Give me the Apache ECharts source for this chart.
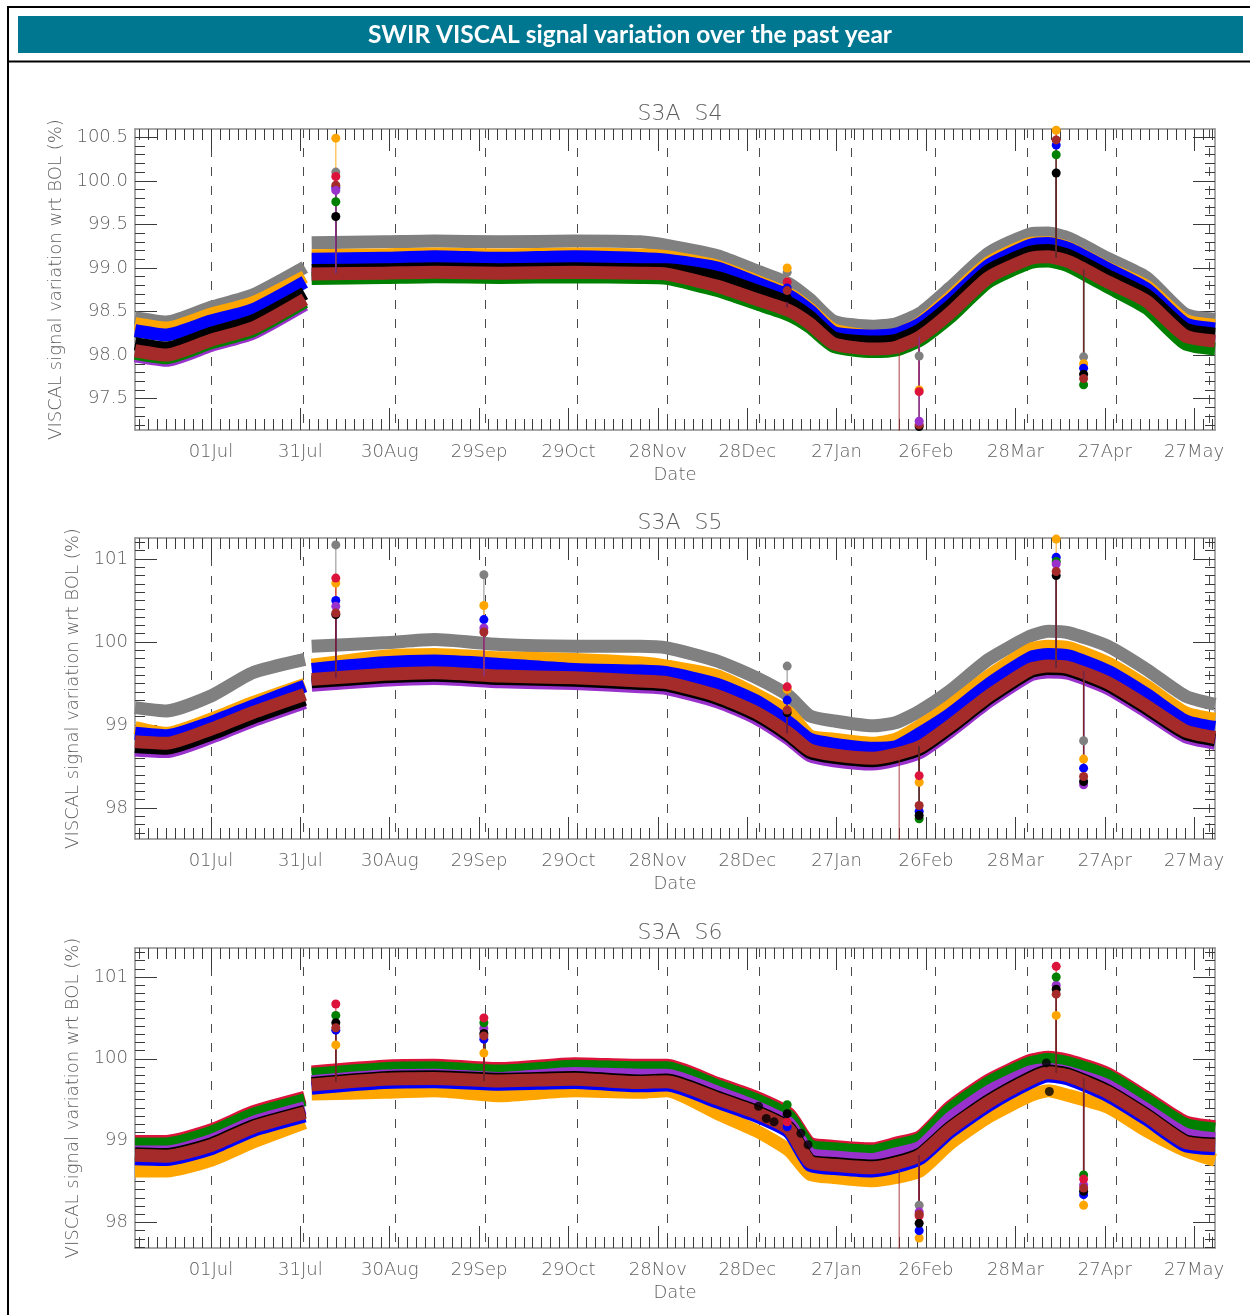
<!DOCTYPE html>
<html>
<head>
<meta charset="utf-8">
<title>SWIR VISCAL signal variation over the past year</title>
<script src="https://cdn.jsdelivr.net/npm/echarts@6/dist/echarts.min.js"></script>
<style>
html, body { margin: 0; padding: 0; background: #fff; }
#main { width: 1250px; height: 1315px; }
</style>
</head>
<body>
<div id="main"></div>
<script>
// days counted from 01 Jul; null = gap in the record
var dayPts = [-25.5, -15, 0, 14, 31.5, 32.6, 33.8, 58, 75, 97, 122, 144, 153, 170, 183, 194, 201, 209, 222, 230, 238, 248, 261, 275, 281, 288, 301, 314, 327, 337];
var tickDays = [0, 30, 60, 90, 120, 150, 180, 210, 240, 270, 300, 330];
var tickLabels = ['01Jul', '31Jul', '30Aug', '29Sep', '29Oct', '28Nov', '28Dec', '27Jan', '26Feb', '28Mar', '27Apr', '27May'];
var monthDays = [0, 31, 62, 92, 123, 153, 184, 215, 243, 274, 304, 335];

// S3A S4
var s4Gray   = [98.43, 98.38, 98.55, 98.69, 99.01, null, 99.29, 99.30, 99.31, 99.30, 99.31, 99.30, 99.26, 99.14, 98.97, 98.82, 98.64, 98.39, 98.33, 98.36, 98.48, 98.77, 99.17, 99.39, 99.40, 99.34, 99.11, 98.89, 98.47, 98.41];
var s4Orange = [98.36, 98.31, 98.47, 98.60, 98.90, null, 99.14, 99.15, 99.16, 99.15, 99.16, 99.15, 99.13, 99.02, 98.85, 98.70, 98.53, 98.29, 98.22, 98.24, 98.37, 98.66, 99.06, 99.28, 99.29, 99.23, 99.00, 98.79, 98.40, 98.34];
var s4Blue   = [98.28, 98.23, 98.39, 98.52, 98.84, null, 99.10, 99.11, 99.13, 99.11, 99.13, 99.11, 99.09, 99.00, 98.83, 98.68, 98.51, 98.26, 98.22, 98.24, 98.36, 98.63, 99.03, 99.26, 99.28, 99.22, 98.99, 98.76, 98.36, 98.30];
var s4Black  = [98.13, 98.08, 98.25, 98.39, 98.71, null, 98.97, 98.98, 98.99, 98.98, 98.99, 98.98, 98.98, 98.89, 98.74, 98.60, 98.44, 98.20, 98.15, 98.17, 98.29, 98.56, 98.97, 99.18, 99.20, 99.14, 98.91, 98.69, 98.30, 98.24];
var s4Purple = [97.99, 97.94, 98.11, 98.25, 98.58, null, 98.92, 98.93, 98.94, 98.93, 98.94, 98.93, 98.92, 98.78, 98.63, 98.50, 98.35, 98.12, 98.06, 98.08, 98.20, 98.47, 98.88, 99.10, 99.12, 99.06, 98.83, 98.61, 98.21, 98.15];
var s4Green  = [98.02, 97.97, 98.14, 98.28, 98.61, null, 98.88, 98.89, 98.90, 98.89, 98.90, 98.89, 98.88, 98.74, 98.59, 98.46, 98.32, 98.10, 98.04, 98.06, 98.17, 98.43, 98.84, 99.06, 99.08, 99.02, 98.78, 98.54, 98.13, 98.07];
var s4Brown  = [98.05, 98.00, 98.17, 98.31, 98.64, null, 98.93, 98.94, 98.95, 98.94, 98.95, 98.94, 98.93, 98.79, 98.64, 98.51, 98.36, 98.13, 98.07, 98.09, 98.21, 98.48, 98.89, 99.11, 99.13, 99.07, 98.84, 98.62, 98.22, 98.16];

// S3A S5
var s5Gray   = [99.21, 99.17, 99.35, 99.63, 99.79, null, 99.95, 99.99, 100.03, 99.97, 99.95, 99.95, 99.93, 99.77, 99.57, 99.35, 99.11, 99.05, 98.99, 99.03, 99.17, 99.41, 99.79, 100.07, 100.13, 100.11, 99.95, 99.67, 99.35, 99.25];
var s5Orange = [98.97, 98.90, 99.07, 99.27, 99.49, null, 99.72, 99.83, 99.85, 99.81, 99.79, 99.75, 99.71, 99.59, 99.37, 99.15, 98.87, 98.83, 98.78, 98.83, 98.99, 99.23, 99.59, 99.91, 99.95, 99.93, 99.75, 99.47, 99.15, 99.07];
var s5Blue   = [98.90, 98.87, 99.03, 99.23, 99.47, null, 99.67, 99.75, 99.77, 99.73, 99.67, 99.65, 99.63, 99.49, 99.29, 99.03, 98.83, 98.77, 98.72, 98.74, 98.90, 99.13, 99.49, 99.81, 99.85, 99.83, 99.65, 99.37, 99.05, 98.97];
var s5Purple = [98.70, 98.68, 98.85, 99.05, 99.27, null, 99.48, 99.54, 99.56, 99.52, 99.50, 99.46, 99.44, 99.28, 99.08, 98.83, 98.63, 98.57, 98.53, 98.58, 98.67, 98.92, 99.28, 99.60, 99.64, 99.62, 99.44, 99.16, 98.86, 98.78];
var s5Black  = [98.74, 98.72, 98.89, 99.09, 99.31, null, 99.52, 99.58, 99.60, 99.56, 99.54, 99.50, 99.48, 99.32, 99.12, 98.87, 98.67, 98.61, 98.57, 98.62, 98.71, 98.96, 99.32, 99.64, 99.68, 99.66, 99.48, 99.20, 98.90, 98.82];
var s5Brown  = [98.80, 98.78, 98.95, 99.15, 99.37, null, 99.55, 99.61, 99.63, 99.59, 99.57, 99.53, 99.51, 99.35, 99.15, 98.90, 98.70, 98.64, 98.60, 98.65, 98.74, 98.99, 99.35, 99.67, 99.71, 99.69, 99.51, 99.23, 98.93, 98.85];

// S3A S6
var s6Red    = [98.99, 98.99, 99.13, 99.35, 99.53, null, 99.84, 99.91, 99.92, 99.88, 99.94, 99.92, 99.92, 99.70, 99.53, 99.33, 98.97, 98.93, 98.90, 98.97, 99.05, 99.41, 99.74, 99.98, 100.02, 99.98, 99.82, 99.53, 99.23, 99.17];
var s6Green  = [98.96, 98.96, 99.10, 99.32, 99.50, null, 99.81, 99.88, 99.89, 99.85, 99.91, 99.89, 99.89, 99.67, 99.50, 99.30, 98.94, 98.90, 98.87, 98.94, 99.02, 99.38, 99.71, 99.95, 99.99, 99.95, 99.79, 99.50, 99.20, 99.14];
var s6Purple = [98.86, 98.86, 99.00, 99.22, 99.40, null, 99.72, 99.79, 99.80, 99.76, 99.82, 99.80, 99.80, 99.59, 99.41, 99.21, 98.84, 98.80, 98.77, 98.84, 98.92, 99.27, 99.60, 99.84, 99.87, 99.83, 99.67, 99.38, 99.08, 99.02];
var s6Black  = [98.84, 98.83, 98.96, 99.18, 99.36, null, 99.70, 99.77, 99.78, 99.75, 99.77, 99.73, 99.74, 99.53, 99.36, 99.16, 98.76, 98.72, 98.69, 98.74, 98.84, 99.16, 99.49, 99.77, 99.85, 99.81, 99.61, 99.32, 99.00, 98.96];
var s6Orange = [98.63, 98.63, 98.76, 98.98, 99.22, null, 99.57, 99.59, 99.61, 99.55, 99.61, 99.59, 99.61, 99.33, 99.12, 98.88, 98.59, 98.55, 98.51, 98.55, 98.63, 98.96, 99.29, 99.55, 99.61, 99.55, 99.41, 99.12, 98.88, 98.76];
var s6Blue   = [98.78, 98.77, 98.90, 99.12, 99.30, null, 99.64, 99.71, 99.72, 99.69, 99.71, 99.67, 99.68, 99.47, 99.30, 99.10, 98.70, 98.66, 98.63, 98.68, 98.78, 99.10, 99.43, 99.71, 99.79, 99.75, 99.55, 99.26, 98.94, 98.90];
var s6Brown  = [98.82, 98.81, 98.94, 99.16, 99.34, null, 99.68, 99.75, 99.76, 99.73, 99.75, 99.71, 99.72, 99.51, 99.34, 99.14, 98.74, 98.70, 98.67, 98.72, 98.82, 99.14, 99.47, 99.75, 99.83, 99.79, 99.59, 99.30, 98.98, 98.94];

// outlier days (spikes) and the band level each spike leaves from
var spikeDays = [41.9, 91.6, 193.4, 231, 237.7, 283.7, 292.9];
var s4SpikeBase   = [98.94, null, 98.55, 98.09, 98.21, 99.12, 98.98];
var s4SpikeGray   = [100.10, null, 98.95, null, 97.99, null, 97.98];
var s4SpikeOrange = [100.49, null, 99.00, null, 97.60, 100.58, 97.90];
var s4SpikeRed    = [100.05, null, 98.84, null, 97.58, 100.62, null];
var s4SpikeBlue   = [99.92, null, 98.77, null, null, 100.41, 97.85];
var s4SpikeGreen  = [99.76, null, null, null, null, 100.30, 97.66];
var s4SpikeBrown  = [99.95, null, 98.74, 96.5, 97.20, 100.47, 97.73];
var s4SpikePurple = [99.89, null, null, null, 97.24, null, null];
var s4SpikeBlack  = [99.59, null, 98.66, null, 97.18, 100.09, 97.78];

var s5SpikeBase   = [99.57, 99.59, 98.90, 98.65, 98.74, 99.69, 99.65];
var s5SpikeGray   = [101.17, 100.81, 99.71, null, null, null, 98.81];
var s5SpikeOrange = [100.71, 100.44, 99.43, null, 98.31, 101.24, 98.59];
var s5SpikeRed    = [100.77, null, 99.46, null, 98.39, null, null];
var s5SpikeBlue   = [100.50, 100.27, 99.30, null, 97.96, 101.02, 98.48];
var s5SpikeGreen  = [null, null, null, null, 97.87, 100.97, null];
var s5SpikeBrown  = [100.35, 100.12, 99.18, 96.5, 98.03, 100.85, 98.38];
var s5SpikePurple = [100.43, 100.17, null, null, null, 100.94, 98.28];
var s5SpikeBlack  = [100.33, null, 99.15, null, 97.91, 100.80, 98.32];

var s6SpikeBase   = [99.72, 99.73, 99.15, 98.70, 98.82, 99.83, 99.76];
var s6SpikeGray   = [null, null, null, null, 98.21, null, null];
var s6SpikeOrange = [100.17, 100.07, null, null, 97.81, 100.53, 98.21];
var s6SpikeRed    = [100.67, 100.50, 99.23, null, 98.08, 101.13, 98.53];
var s6SpikeBlue   = [100.35, 100.24, 99.17, null, 97.90, null, 98.34];
var s6SpikeGreen  = [100.53, 100.44, 99.44, null, null, 101.00, 98.58];
var s6SpikeBrown  = [100.38, 100.28, null, 96.5, 98.10, 100.79, 98.42];
var s6SpikePurple = [null, 100.37, null, null, 98.13, 100.90, 98.46];
var s6SpikeBlack  = [100.44, 100.31, 99.33, null, 97.99, 100.85, 98.38];
// loose black points in S6
var s6DotDays = [183.8, 186.4, 189, 198, 200.4, 280.4, 281.4];
var s6DotVals = [99.42, 99.27, 99.23, 99.09, 98.95, 99.95, 99.60];

var C = {
	gray : '#808080', orange : '#ffa500', blue : '#0000ff', black : '#000000',
	brown : '#a52a2a', green : '#008000', purple : '#9932cc', red : '#dc143c'
};

var panels = [ {
	title : 'S3A  S4', top : 129, height : 301, yMin : 97.14, yMax : 100.595,
	yTicks : [ 97.5, 98, 98.5, 99, 99.5, 100, 100.5 ], dec : 1, nameGap : 70,
	bands : [ [ 'gray', s4Gray ], [ 'orange', s4Orange ], [ 'blue', s4Blue ], [ 'black', s4Black ],
			[ 'purple', s4Purple ], [ 'green', s4Green ], [ 'brown', s4Brown ] ],
	base : s4SpikeBase,
	spikes : [ [ 'gray', s4SpikeGray ], [ 'orange', s4SpikeOrange ], [ 'red', s4SpikeRed ], [ 'blue', s4SpikeBlue ],
			[ 'green', s4SpikeGreen ], [ 'black', s4SpikeBlack ], [ 'brown', s4SpikeBrown ], [ 'purple', s4SpikePurple ] ]
}, {
	title : 'S3A  S5', top : 538, height : 301, yMin : 97.627, yMax : 101.253,
	yTicks : [ 98, 99, 100, 101 ], dec : 0, nameGap : 53,
	bands : [ [ 'gray', s5Gray ], [ 'orange', s5Orange ], [ 'blue', s5Blue ], [ 'purple', s5Purple ],
			[ 'black', s5Black ], [ 'brown', s5Brown ] ],
	base : s5SpikeBase,
	spikes : [ [ 'gray', s5SpikeGray ], [ 'orange', s5SpikeOrange ], [ 'red', s5SpikeRed ], [ 'blue', s5SpikeBlue ],
			[ 'green', s5SpikeGreen ], [ 'purple', s5SpikePurple ], [ 'black', s5SpikeBlack ], [ 'brown', s5SpikeBrown ] ]
}, {
	title : 'S3A  S6', top : 948, height : 300, yMin : 97.688, yMax : 101.354,
	yTicks : [ 98, 99, 100, 101 ], dec : 0, nameGap : 53,
	bands : [ [ 'red', s6Red ], [ 'green', s6Green ], [ 'purple', s6Purple ], [ 'black', s6Black ],
			[ 'orange', s6Orange ], [ 'blue', s6Blue ], [ 'brown', s6Brown ] ],
	base : s6SpikeBase,
	spikes : [ [ 'gray', s6SpikeGray ], [ 'orange', s6SpikeOrange ], [ 'blue', s6SpikeBlue ], [ 'purple', s6SpikePurple ],
			[ 'green', s6SpikeGreen ], [ 'red', s6SpikeRed ], [ 'black', s6SpikeBlack ], [ 'brown', s6SpikeBrown ] ]
} ];

var xMin = -25.5, xMax = 337;
var axisCol = '#8c8c8c', tickCol = '#3a3a3a', textCol = '#5e5e5e', font = 'DejaVu Sans';

// minor tick positions
var xMinor = [];
for (var k = Math.ceil(xMin / 3); k * 3 <= xMax; k++) {
	xMinor.push(k * 3);
}
function yMinorOf(p) {
	var out = [];
	for (var k = Math.ceil(p.yMin * 10); k <= Math.floor(p.yMax * 10); k++) {
		out.push(k / 10);
	}
	return out;
}

var grids = [], xAxes = [], yAxes = [], titles = [], series = [];

panels.forEach(function(p, g) {
	grids.push({ left : 135, width : 1080, top : p.top, height : p.height });
	titles.push({
		text : p.title, left : 675, top : p.top - 31, textAlign : 'center',
		textStyle : { fontSize : 22, fontWeight : 200, color : textCol, fontFamily : font }
	});

	var xBase = { type : 'value', gridIndex : g, min : xMin, max : xMax, splitLine : { show : false } };
	// bottom, major ticks + labels
	xAxes.push(Object.assign({}, xBase, {
		position : 'bottom',
		axisLine : { show : true, onZero : false, lineStyle : { color : axisCol, width : 1.5 } },
		axisTick : { show : true, inside : true, length : 22, customValues : tickDays, lineStyle : { color : tickCol } },
		axisLabel : {
			show : true, customValues : tickDays, margin : 13, color : textCol, fontSize : 18, fontWeight : 200, fontFamily : font,
			formatter : function(v) {
				var i = tickDays.indexOf(Math.round(v));
				return i >= 0 ? tickLabels[i] : '';
			}
		},
		name : 'Date', nameLocation : 'middle', nameGap : 36,
		nameTextStyle : { color : textCol, fontSize : 18, fontWeight : 200, fontFamily : font }
	}));
	// bottom, minor ticks
	xAxes.push(Object.assign({}, xBase, {
		position : 'bottom', axisLine : { show : false, onZero : false },
		axisTick : { show : true, inside : true, length : 11, customValues : xMinor, lineStyle : { color : tickCol } },
		axisLabel : { show : false }
	}));
	// top, major + minor
	xAxes.push(Object.assign({}, xBase, {
		position : 'top',
		axisLine : { show : true, onZero : false, lineStyle : { color : axisCol, width : 1.5 } },
		axisTick : { show : true, inside : true, length : 22, customValues : tickDays, lineStyle : { color : tickCol } },
		axisLabel : { show : false }
	}));
	xAxes.push(Object.assign({}, xBase, {
		position : 'top', axisLine : { show : false, onZero : false },
		axisTick : { show : true, inside : true, length : 11, customValues : xMinor, lineStyle : { color : tickCol } },
		axisLabel : { show : false }
	}));
	// month starts, dashed
	xAxes.push(Object.assign({}, xBase, {
		position : 'bottom', axisLine : { show : false, onZero : false },
		axisTick : { show : false, customValues : monthDays },
		axisLabel : { show : false },
		splitLine : { show : true, lineStyle : { color : '#4a4a4a', width : 1, type : [ 9, 10 ] } }
	}));

	var yBase = { type : 'value', gridIndex : g, min : p.yMin, max : p.yMax, splitLine : { show : false } };
	var yMinor = yMinorOf(p);
	yAxes.push(Object.assign({}, yBase, {
		position : 'left',
		axisLine : { show : true, onZero : false, lineStyle : { color : axisCol, width : 1.5 } },
		axisTick : { show : true, inside : true, length : 22, customValues : p.yTicks, lineStyle : { color : tickCol } },
		axisLabel : {
			show : true, customValues : p.yTicks, margin : 7, color : textCol, fontSize : 18, fontWeight : 200, fontFamily : font,
			formatter : function(v) {
				return p.dec ? v.toFixed(1) : String(Math.round(v));
			}
		},
		name : 'VISCAL signal variation wrt BOL (%)', nameLocation : 'middle', nameGap : p.nameGap, nameRotate : 90,
		nameTextStyle : { color : textCol, fontSize : 18, fontWeight : 200, fontFamily : font }
	}));
	yAxes.push(Object.assign({}, yBase, {
		position : 'left', axisLine : { show : false, onZero : false },
		axisTick : { show : true, inside : true, length : 10, customValues : yMinor, lineStyle : { color : tickCol } },
		axisLabel : { show : false }
	}));
	yAxes.push(Object.assign({}, yBase, {
		position : 'right',
		axisLine : { show : true, onZero : false, lineStyle : { color : axisCol, width : 1.5 } },
		axisTick : { show : true, inside : true, length : 22, customValues : p.yTicks, lineStyle : { color : tickCol } },
		axisLabel : { show : false }
	}));
	yAxes.push(Object.assign({}, yBase, {
		position : 'right', axisLine : { show : false, onZero : false },
		axisTick : { show : true, inside : true, length : 10, customValues : yMinor, lineStyle : { color : tickCol } },
		axisLabel : { show : false }
	}));

	var xi = g * 5, yi = g * 4;
	// thick bands (dense daily dots)
	p.bands.forEach(function(b) {
		series.push({
			type : 'line', xAxisIndex : xi, yAxisIndex : yi, silent : true, animation : false,
			symbol : 'none', smooth : 0.2, connectNulls : false, z : 2,
			lineStyle : { color : C[b[0]], width : 13, join : 'round' },
			data : dayPts.map(function(d, i) { return [ d, b[1][i] ]; })
		});
	});
	// outliers with the connecting line from the band
	p.spikes.forEach(function(s) {
		var data = [];
		spikeDays.forEach(function(d, i) {
			if (s[1][i] == null || p.base[i] == null) return;
			data.push({ value : [ d, p.base[i] ], symbol : 'none' });
			data.push([ d, s[1][i] ]);
			data.push([ d, null ]);
		});
		series.push({
			type : 'line', xAxisIndex : xi, yAxisIndex : yi, silent : true, animation : false,
			symbol : 'circle', symbolSize : 9, showSymbol : true, connectNulls : false, z : 3,
			itemStyle : { color : C[s[0]] },
			lineStyle : { color : C[s[0]], width : 1.3, opacity : 0.7 },
			data : data
		});
	});
	if (g === 2) {
		series.push({
			type : 'scatter', xAxisIndex : xi, yAxisIndex : yi, silent : true, animation : false,
			symbolSize : 9, z : 3, itemStyle : { color : C.black },
			data : s6DotDays.map(function(d, i) { return [ d, s6DotVals[i] ]; })
		});
	}
});

var chart = echarts.init(document.getElementById('main'));
chart.setOption({
	backgroundColor : '#ffffff',
	animation : false,
	title : titles,
	grid : grids,
	xAxis : xAxes,
	yAxis : yAxes,
	series : series,
	graphic : [ {
		type : 'rect', shape : { x : 18, y : 16, width : 1225, height : 37 },
		style : { fill : '#007791' }
	}, {
		type : 'text', x : 630, y : 35,
		style : {
			text : 'SWIR VISCAL signal variation over the past year', fill : '#ffffff',
			fontSize : 24.5, fontWeight : 'bold', fontFamily : 'Lato', align : 'center', verticalAlign : 'middle'
		}
	}, {
		type : 'line', shape : { x1 : 8, y1 : 7, x2 : 1250, y2 : 7 }, style : { stroke : '#000', lineWidth : 2 }
	}, {
		type : 'line', shape : { x1 : 8, y1 : 6, x2 : 8, y2 : 1315 }, style : { stroke : '#000', lineWidth : 2 }
	}, {
		type : 'line', shape : { x1 : 8, y1 : 61.5, x2 : 1250, y2 : 61.5 }, style : { stroke : '#000', lineWidth : 2 }
	} ]
});
</script>
</body>
</html>
